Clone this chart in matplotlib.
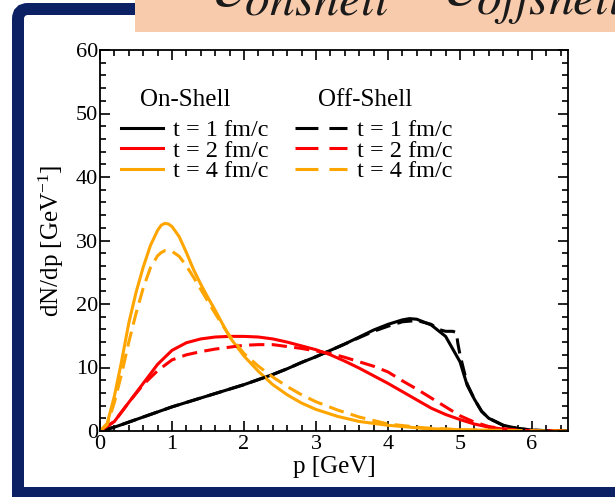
import matplotlib
matplotlib.use("Agg")
import matplotlib.pyplot as plt
from matplotlib.patches import FancyBboxPatch, Rectangle
from matplotlib.lines import Line2D
from matplotlib.transforms import IdentityTransform
from matplotlib.ticker import MultipleLocator

plt.rcParams['font.family'] = ['Liberation Serif', 'DejaVu Serif']
plt.rcParams['mathtext.fontset'] = 'stix'
plt.rcParams['mathtext.default'] = 'regular'

# momentum spectra dN/dp, on-shell (solid) and off-shell (dashed)
p_on1 = [0, 0.2, 0.4, 0.6, 0.8, 1.0, 1.2, 1.4, 1.6, 1.8, 2.0, 2.2, 2.4, 2.6, 2.8, 3.0, 3.2, 3.4,
         3.6, 3.8, 4.0, 4.2, 4.3, 4.4, 4.6, 4.8, 5.0, 5.1, 5.2, 5.3, 5.4, 5.6, 5.8, 6.0, 6.2, 6.5]
on_t1 = [0, 0.6, 1.4, 2.2, 3.0, 3.8, 4.5, 5.2, 5.9, 6.6, 7.3, 8.1, 8.9, 9.8, 10.8, 11.7, 12.7, 13.7,
         14.8, 15.9, 16.8, 17.5, 17.7, 17.6, 16.7, 14.9, 10.9, 7.2, 5.0, 3.1, 2.0, 0.9, 0.4, 0.15, 0.05, 0]

p_off1 = [0, 0.2, 0.4, 0.6, 0.8, 1.0, 1.2, 1.4, 1.6, 1.8, 2.0, 2.2, 2.4, 2.6, 2.8, 3.0, 3.2, 3.4,
          3.6, 3.8, 4.0, 4.2, 4.4, 4.6, 4.7, 4.8, 4.9, 4.95, 4.97, 5.0, 5.1, 5.2, 5.3, 5.4, 5.6, 5.8,
          6.0, 6.2, 6.5]
off_t1 = [0, 0.6, 1.4, 2.2, 3.0, 3.8, 4.5, 5.2, 5.9, 6.6, 7.3, 8.1, 8.9, 9.8, 10.8, 11.7, 12.7, 13.7,
          14.7, 15.7, 16.5, 17.2, 17.4, 16.8, 16.0, 15.7, 15.7, 15.5, 13.8, 12.0, 7.4, 5.0, 3.1, 2.0,
          0.9, 0.4, 0.15, 0.05, 0]

p_2 = [0, 0.2, 0.4, 0.6, 0.8, 1.0, 1.2, 1.4, 1.6, 1.8, 2.0, 2.2, 2.4, 2.6, 2.8, 3.0, 3.2, 3.4, 3.6,
       3.8, 4.0, 4.2, 4.4, 4.6, 4.8, 5.0, 5.2, 5.4, 5.6, 5.8, 6.0, 6.5]
on_t2 = [0, 1.5, 4.5, 7.5, 10.5, 12.7, 13.9, 14.5, 14.8, 14.9, 14.9, 14.8, 14.5, 14.0, 13.4, 12.8,
         12.0, 11.0, 9.9, 8.7, 7.5, 6.2, 4.9, 3.6, 2.6, 1.8, 1.1, 0.6, 0.3, 0.15, 0.05, 0]
off_t2 = [0, 1.5, 4.5, 7.3, 9.5, 11.2, 12.0, 12.5, 12.9, 13.2, 13.5, 13.6, 13.6, 13.3, 13.0, 12.6,
          12.2, 11.6, 10.9, 10.2, 9.3, 7.9, 6.6, 5.2, 3.8, 2.4, 1.4, 0.7, 0.35, 0.15, 0.05, 0]

p_4 = [0, 0.1, 0.2, 0.3, 0.4, 0.5, 0.6, 0.7, 0.8, 0.85, 0.9, 0.95, 1.0, 1.1, 1.2, 1.3, 1.4, 1.5,
       1.6, 1.7, 1.8, 2.0, 2.2, 2.4, 2.6, 2.8, 3.0, 3.3, 3.6, 4.0, 4.5, 5.0, 5.5, 6.0, 6.5]
on_t4 = [0, 1.2, 5.5, 11.0, 17.0, 21.8, 25.8, 29.2, 31.6, 32.4, 32.7, 32.6, 32.2, 30.6, 28.1, 25.4,
         23.1, 21.0, 19.0, 16.9, 14.8, 11.8, 9.4, 7.3, 5.7, 4.4, 3.4, 2.3, 1.5, 0.9, 0.4, 0.2, 0.1,
         0.05, 0]
off_t4 = [0, 1.0, 4.5, 9.0, 14.0, 18.5, 22.5, 25.7, 27.6, 28.1, 28.4, 28.4, 28.3, 27.5, 26.0, 24.2,
          22.3, 20.4, 18.5, 16.7, 15.0, 12.2, 10.2, 8.5, 7.0, 5.7, 4.6, 3.3, 2.2, 1.1, 0.5, 0.2, 0.1,
          0.05, 0]

times = ['t = 1 fm/c', 't = 2 fm/c', 't = 4 fm/c']
colors = ['#000000', '#ff0000', '#ffa500']

fig = plt.figure(figsize=(6.15, 4.97), dpi=100)
W, H = 615, 497

# slide frame and title banner (pixel coordinates)
navy = '#0b2163'
frame = FancyBboxPatch((18, -60), 800, H - 9 + 60, boxstyle="round,pad=0,rounding_size=10",
                       transform=IdentityTransform(), facecolor='none', edgecolor=navy,
                       linewidth=12 * 0.72, zorder=0)
fig.patches.append(frame)
fig.patches.append(Rectangle((12, -5), 800, 15, transform=IdentityTransform(),
                             facecolor=navy, edgecolor='none', zorder=0))
fig.patches.append(Rectangle((135, H - 32), 500, 40, transform=IdentityTransform(),
                             facecolor='#f8cbad', edgecolor='none', zorder=1))
fig.text(213 / W, (H - 6.5) / H, r'$\mathit{\varepsilon}_{\mathit{onshell}}$', fontsize=51,
         va='baseline', ha='left', color='#1a1a1a', zorder=2)
fig.text(445 / W, (H - 6.5) / H, r'$\mathit{\varepsilon}_{\mathit{offshell}}$', fontsize=51,
         va='baseline', ha='left', color='#1a1a1a', zorder=2)

ax = fig.add_axes([100 / W, 66 / H, 468 / W, 381 / H])
lw = 2.2
for pp, yy, c in [(p_on1, on_t1, colors[0]), (p_2, on_t2, colors[1]), (p_4, on_t4, colors[2])]:
    ax.plot(pp, yy, color=c, lw=lw, solid_joinstyle='round')
for pp, yy, c in [(p_off1, off_t1, colors[0]), (p_2, off_t2, colors[1]), (p_4, off_t4, colors[2])]:
    ax.plot(pp, yy, color=c, lw=lw, dashes=(5, 2.4))

ax.set_xlim(0, 6.5)
ax.set_ylim(0, 60)
ax.xaxis.set_major_locator(MultipleLocator(1))
ax.xaxis.set_minor_locator(MultipleLocator(0.2))
ax.yaxis.set_major_locator(MultipleLocator(10))
ax.yaxis.set_minor_locator(MultipleLocator(2))
ax.tick_params(which='both', direction='in', top=True, right=True, width=1.2, labelsize=16)
ax.tick_params(which='major', length=7)
ax.tick_params(which='minor', length=4)
ax.tick_params(axis='y', pad=1.5)
ax.tick_params(axis='x', pad=3)
for s in ax.spines.values():
    s.set_linewidth(1.3)
ax.set_xlabel('p [GeV]', fontsize=18)
ax.set_ylabel('dN/dp [GeV$^{-1}$]', fontsize=18)
ax.xaxis.set_label_coords(0.5, -0.066)
ax.yaxis.set_label_coords(-0.072, 0.5)

# two-column key: on-shell (solid) and off-shell (dashed)
ax.text(0.182, 0.853, 'On-Shell', transform=ax.transAxes, fontsize=18,
        ha='center', va='baseline')
ax.text(0.566, 0.853, 'Off-Shell', transform=ax.transAxes, fontsize=18,
        ha='center', va='baseline')
on_handles = [Line2D([], [], color=c, lw=lw) for c in colors]
off_handles = [Line2D([], [], color=c, lw=lw, dashes=(7.5, 3.6)) for c in colors]
leg1 = ax.legend(on_handles, times, loc='upper left',
                 bbox_to_anchor=(0.044, 0.818), frameon=False, fontsize=17.5,
                 handlelength=1.75, handletextpad=0.42,
                 labelspacing=-0.06, borderpad=0, borderaxespad=0)
ax.add_artist(leg1)
ax.legend(off_handles, times, loc='upper left',
          bbox_to_anchor=(0.416, 0.818), frameon=False, fontsize=17.5,
          handlelength=2.15, handletextpad=0.42,
          labelspacing=-0.06, borderpad=0, borderaxespad=0)

fig.savefig('out.png', dpi=100)
